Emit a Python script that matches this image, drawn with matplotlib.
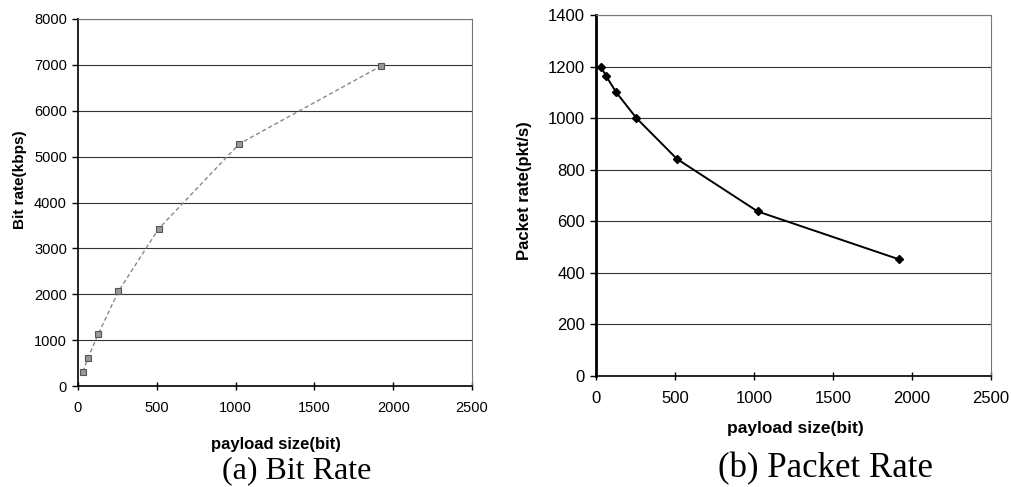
import matplotlib.pyplot as plt

# Payload sizes (bit) used in both measurements
payload_bits = [32, 64, 128, 256, 512, 1024, 1920]

# (a) measured bit rate, kbps
bit_rate_kbps = [310, 620, 1130, 2060, 3430, 5280, 6970]

# (b) measured packet rate, pkt/s
packet_rate = [1198, 1163, 1100, 1000, 842, 638, 452]

x_ticks = [0, 500, 1000, 1500, 2000, 2500]
bit_ticks = [0, 1000, 2000, 3000, 4000, 5000, 6000, 7000, 8000]
pkt_ticks = [0, 200, 400, 600, 800, 1000, 1200, 1400]

plt.rcParams["font.family"] = ["Liberation Sans", "DejaVu Sans"]

W, H = 1011, 487
fig = plt.figure(figsize=(W / 100, H / 100), dpi=100)


def px_axes(x0, y0, x1, y1):
    """Axes from pixel box (top-left origin)."""
    return fig.add_axes([x0 / W, 1 - y1 / H, (x1 - x0) / W, (y1 - y0) / H])


def style_axes(ax, tick_size, left_lw):
    ax.set_xlim(0, 2500)
    ax.set_xticks(x_ticks)
    ax.grid(axis="y", color="#333333", linewidth=0.8)
    ax.set_axisbelow(True)
    for side in ("top", "right"):
        ax.spines[side].set_color("#777777")
        ax.spines[side].set_linewidth(0.8)
        ax.spines[side].set_linestyle((0, (1, 1)))
    ax.spines["left"].set_linewidth(left_lw)
    ax.spines["bottom"].set_linewidth(1.2)
    ax.tick_params(axis="y", direction="out", length=4, width=1, labelsize=tick_size, pad=4)
    ax.tick_params(axis="x", direction="inout", length=6, width=1, labelsize=tick_size, pad=8)


# (a) Bit Rate
ax1 = px_axes(78, 19, 472, 386)
ax1.plot(payload_bits, bit_rate_kbps, linestyle=(0, (3, 2)), color="#888888", linewidth=1,
         marker="s", markersize=5, markerfacecolor="#999999", markeredgecolor="#555555",
         markeredgewidth=0.8)
ax1.set_ylim(0, 8000)
ax1.set_yticks(bit_ticks)
style_axes(ax1, 10.5, 1.2)

fig.text(20 / W, 1 - 180 / H, "Bit rate(kbps)", rotation=90, ha="center", va="center",
         fontsize=11, fontweight="bold")
fig.text(276 / W, 1 - 444 / H, "payload size(bit)", ha="center", va="center",
         fontsize=12, fontweight="bold")
fig.text(297 / W, 1 - 471 / H, "(a) Bit Rate", ha="center", va="center",
         fontsize=23, family="Liberation Serif")

# (b) Packet Rate
ax2 = px_axes(596, 15, 991, 376)
ax2.plot(payload_bits, packet_rate, color="black", linewidth=1.4,
         marker="D", markersize=4.5, markerfacecolor="black", markeredgecolor="black")
ax2.set_ylim(0, 1400)
ax2.set_yticks(pkt_ticks)
style_axes(ax2, 12, 2)

fig.text(524 / W, 1 - 191 / H, "Packet rate(pkt/s)", rotation=90, ha="center", va="center",
         fontsize=12, fontweight="bold")
fig.text(795 / W, 1 - 429 / H, "payload size(bit)", ha="center", va="center",
         fontsize=12.5, fontweight="bold")
fig.text(826 / W, 1 - 469 / H, "(b) Packet Rate", ha="center", va="center",
         fontsize=25, family="Liberation Serif")

fig.savefig("out.png", dpi=100)
